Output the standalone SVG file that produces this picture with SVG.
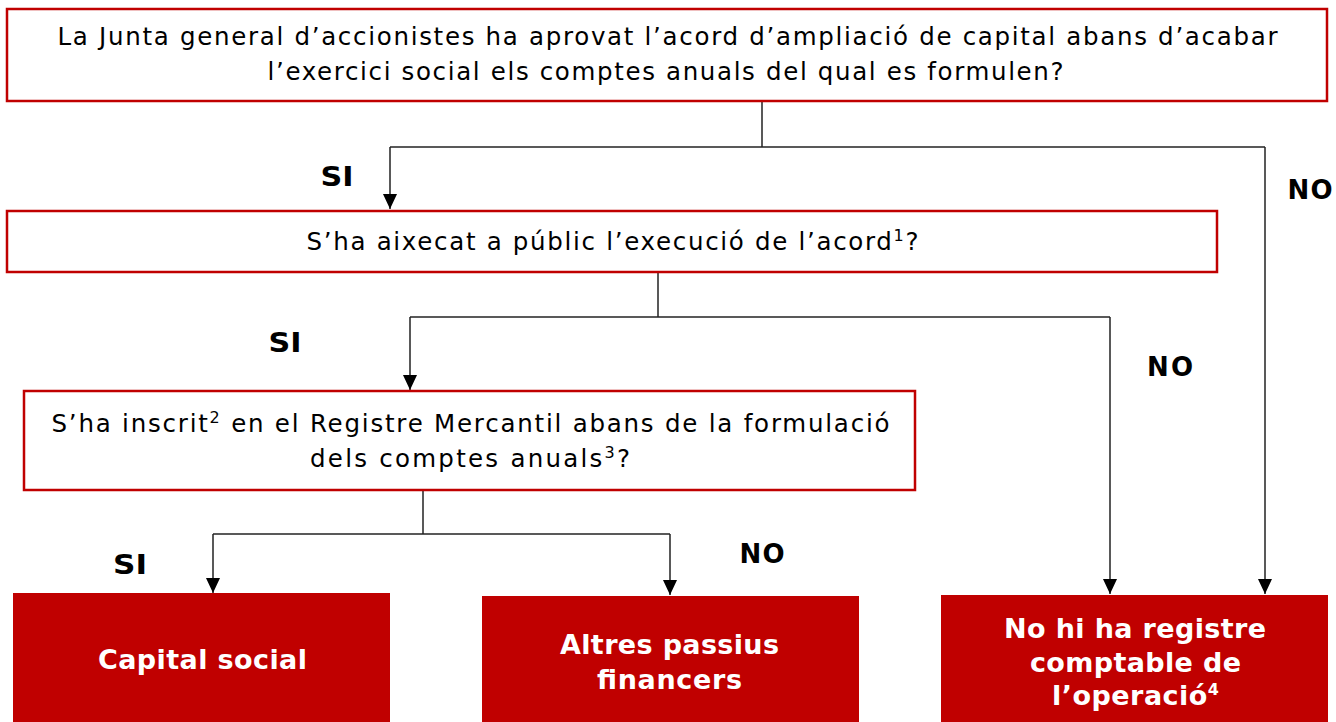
<svg xmlns="http://www.w3.org/2000/svg" width="1336" height="722" viewBox="0 0 1336 722">
<defs>
<style>
.q{fill:#fff;stroke:#c00000;stroke-width:2.5}
.r{fill:#c00000;stroke:none}
.t{font-family:"DejaVu Sans","Liberation Sans",sans-serif;font-size:24.5px;fill:#000;text-anchor:middle}
.w{font-family:"DejaVu Sans","Liberation Sans",sans-serif;font-size:27px;font-weight:bold;fill:#fff;text-anchor:middle}
.l{font-family:"DejaVu Sans","Liberation Sans",sans-serif;font-size:26px;font-weight:bold;fill:#000;text-anchor:middle}
.c{fill:none;stroke:#222;stroke-width:1.5}
.s{font-size:16px}
</style>
<marker id="a" markerWidth="16" markerHeight="14" refX="15" refY="7" orient="auto" markerUnits="userSpaceOnUse">
<path d="M0,0 L15,7 L0,14 Z" fill="#000"/>
</marker>
</defs>
<g id="connectors">
<path class="c" d="M762,101 V147"/>
<path class="c" d="M390,147 H1265"/>
<path class="c" d="M390,147 V209" marker-end="url(#a)"/>
<path class="c" d="M1265,147 V594" marker-end="url(#a)"/>
<path class="c" d="M658,272 V317"/>
<path class="c" d="M410,317 H1110"/>
<path class="c" d="M410,317 V390" marker-end="url(#a)"/>
<path class="c" d="M1110,317 V594" marker-end="url(#a)"/>
<path class="c" d="M423,490 V534"/>
<path class="c" d="M213,534 H670"/>
<path class="c" d="M213,534 V593" marker-end="url(#a)"/>
<path class="c" d="M670,534 V595" marker-end="url(#a)"/>
<text class="l" x="337" y="186" textLength="33" lengthAdjust="spacingAndGlyphs">SI</text>
<text class="l" x="1310" y="199" textLength="45">NO</text>
<text class="l" x="285" y="352" textLength="33" lengthAdjust="spacingAndGlyphs">SI</text>
<text class="l" x="1170" y="376" textLength="46">NO</text>
<text class="l" x="130" y="574" textLength="34" lengthAdjust="spacingAndGlyphs">SI</text>
<text class="l" x="762" y="563" textLength="45">NO</text>
</g>
<g id="n1">
<rect class="q" x="7" y="9" width="1320" height="92"/>
<text class="t" x="667.5" y="45" textLength="1220">La Junta general d’accionistes ha aprovat l’acord d’ampliació de capital abans d’acabar</text>
<text class="t" x="665.5" y="80" textLength="796">l’exercici social els comptes anuals del qual es formulen?</text>
</g>
<g id="n2">
<rect class="q" x="7" y="211" width="1210" height="61"/>
<text class="t" x="612.5" y="250" textLength="612">S’ha aixecat a públic l’execució de l’acord<tspan class="s" dy="-9">1</tspan><tspan dy="9">?</tspan></text>
</g>
<g id="n3">
<rect class="q" x="24" y="391" width="891" height="99"/>
<text class="t" x="470.5" y="432" textLength="838">S’ha inscrit<tspan class="s" dy="-9">2</tspan><tspan dy="9"> en el Registre Mercantil abans de la formulació</tspan></text>
<text class="t" x="470" y="467" textLength="320">dels comptes anuals<tspan class="s" dy="-9">3</tspan><tspan dy="9">?</tspan></text>
</g>
<g id="n4">
<rect class="r" x="13" y="593" width="377" height="129"/>
<text class="w" x="202.5" y="669" textLength="209">Capital social</text>
</g>
<g id="n5">
<rect class="r" x="482" y="596" width="377" height="126"/>
<text class="w" x="669.5" y="654" textLength="219">Altres passius</text>
<text class="w" x="669.5" y="689" textLength="145">financers</text>
</g>
<g id="n6">
<rect class="r" x="941" y="595" width="387" height="127"/>
<text class="w" x="1135" y="638" textLength="262">No hi ha registre</text>
<text class="w" x="1135.5" y="672" textLength="211">comptable de</text>
<text class="w" x="1135.5" y="705" textLength="167">l’operació<tspan class="s" dy="-10">4</tspan></text>
</g>
</svg>
